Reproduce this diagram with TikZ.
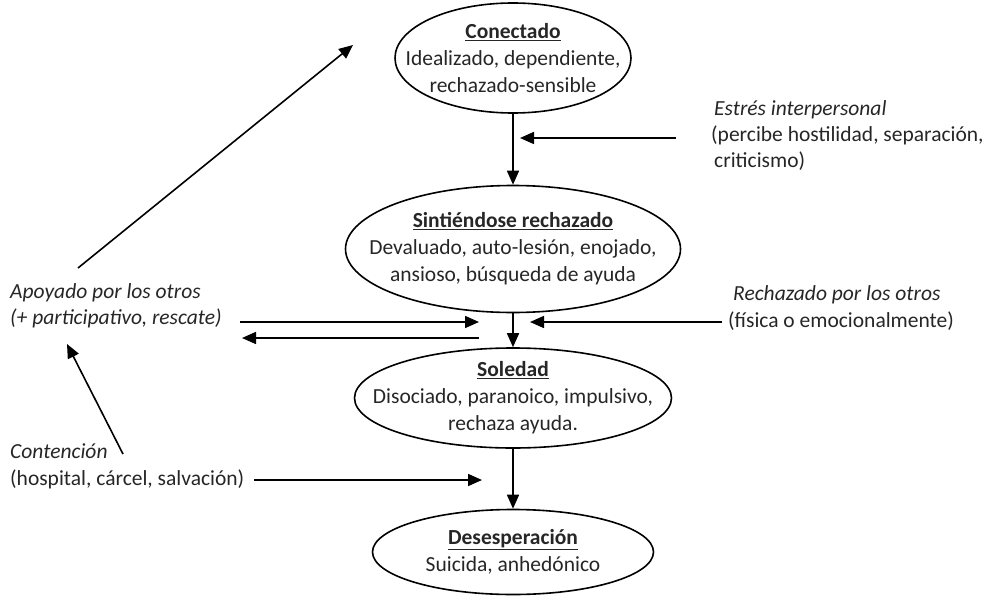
\documentclass[tikz,border=0pt]{standalone}
\usepackage{fontspec}
\setmainfont{Carlito}
\usetikzlibrary{shapes.geometric,arrows.meta}
\begin{document}
\begin{tikzpicture}[x=1pt,y=-1pt,
  every node/.style={font=\fontsize{21.5}{27}\selectfont, text=black!85},
  state/.style={draw, ellipse, line width=1.6pt, inner sep=-60pt, align=center},
  side/.style={align=left, anchor=west, inner sep=0pt},
  arr/.style={line width=1.6pt, -{Triangle[length=14pt,width=12pt]}}]
\useasboundingbox (0,0) rectangle (1004,597);
\node[state, minimum width=236pt, minimum height=110pt] (c1) at (513,58)
  {\underline{\textbf{Conectado}}\\Idealizado, dependiente,\\rechazado-sensible};
\node[state, minimum width=335pt, minimum height=127pt] (c2) at (513,249)
  {\underline{\textbf{Sintiéndose rechazado}}\\Devaluado, auto-lesión, enojado,\\ansioso, búsqueda de ayuda};
\node[state, minimum width=317pt, minimum height=100pt] (c3) at (513,398)
  {\underline{\textbf{Soledad}}\\Disociado, paranoico, impulsivo,\\rechaza ayuda.};
\node[state, minimum width=281pt, minimum height=85pt] (c4) at (513,552)
  {\underline{\textbf{Desesperación}}\\Suicida, anhedónico};

\node[side, font=\fontsize{21.5}{26}\selectfont] (estres) at (711,136)
  {\hspace{3pt}\textit{Estrés interpersonal}\\(percibe hostilidad, separación,\\\hspace{3pt}criticismo)};
\node[side] (rech) at (728,308.5)
  {\hspace{5pt}\textit{Rechazado por los otros}\\(física o emocionalmente)};
\node[side, font=\fontsize{21.5}{26}\selectfont] (apoy) at (10,306)
  {\textit{Apoyado por los otros}\\\textit{(+ participativo, rescate)}};
\node[side] (cont) at (10,466.5)
  {\textit{Contención}\\(hospital, cárcel, salvación)};

\coordinate (e1) at (676,138);
\coordinate (e2) at (520,138);
\coordinate (a1) at (240,322);
\coordinate (a2) at (479,322);
\coordinate (b1) at (479,338);
\coordinate (b2) at (242,338);
\coordinate (r1) at (722,322);
\coordinate (r2) at (530,322);
\coordinate (h1) at (254,480);
\coordinate (h2) at (482,480);
\coordinate (d1) at (78,268);
\coordinate (d2) at (353,45);
\coordinate (u1) at (123,454);
\coordinate (u2) at (67,344);

\draw[arr] (c1.south) -- (c2.north);
\draw[arr] (c2.south) -- (c3.north);
\draw[arr] (c3.south) -- (c4.north);
\draw[arr] (e1) -- (e2);
\draw[arr] (a1) -- (a2);
\draw[arr] (b1) -- (b2);
\draw[arr] (r1) -- (r2);
\draw[arr] (h1) -- (h2);
\draw[arr] (d1) -- (d2);
\draw[arr] (u1) -- (u2);
\end{tikzpicture}
\end{document}
